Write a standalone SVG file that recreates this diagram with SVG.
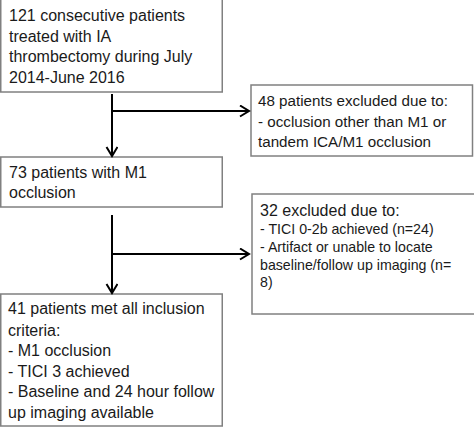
<svg xmlns="http://www.w3.org/2000/svg" width="474" height="429" viewBox="0 0 474 429">
  <defs>
    <style>
      .box { fill: #ffffff; stroke: #808080; stroke-width: 1.5; }
      .t { font-family: "Liberation Sans", Arial, sans-serif; fill: #1a1a1a; font-size: 16px; }
      .s { font-size: 15.2px; }
      .xs { font-size: 14.2px; }
      .conn { stroke: #000000; stroke-width: 2; fill: none; }
    </style>
    <marker id="arr" markerUnits="userSpaceOnUse" markerWidth="12" markerHeight="14" refX="10" refY="6" orient="auto">
      <path d="M1,0.5 L10,6 L1,11.5" fill="none" stroke="#000000" stroke-width="2"/>
    </marker>
  </defs>
  <rect width="474" height="429" fill="#ffffff"/>

  <g id="n1">
    <rect class="box" x="0.75" y="-2" width="221.5" height="94"/>
    <text class="t" x="9" y="21">121 consecutive patients</text>
    <text class="t" x="9" y="41.5">treated with IA</text>
    <text class="t" x="9" y="62">thrombectomy during July</text>
    <text class="t" x="9" y="83">2014-June 2016</text>
  </g>

  <g id="n2">
    <rect class="box" x="251" y="85" width="221.5" height="71"/>
    <text class="t s" x="258" y="106">48 patients excluded due to:</text>
    <text class="t s" x="258" y="126.5">- occlusion other than M1 or</text>
    <text class="t s" x="258" y="146.5">tandem ICA/M1 occlusion</text>
  </g>

  <g id="n3">
    <rect class="box" x="0.75" y="157" width="221.5" height="50"/>
    <text class="t" x="9" y="178">73 patients with M1</text>
    <text class="t" x="9" y="198">occlusion</text>
  </g>

  <g id="n4">
    <rect class="box" x="252" y="194" width="226" height="120"/>
    <text class="t" x="260" y="216">32 excluded due to:</text>
    <text class="t xs" x="260" y="234">- TICI 0-2b achieved (n=24)</text>
    <text class="t xs" x="260" y="252">- Artifact or unable to locate</text>
    <text class="t xs" x="260" y="269.5">baseline/follow up imaging (n=</text>
    <text class="t xs" x="260" y="287">8)</text>
  </g>

  <g id="n5">
    <rect class="box" x="0.75" y="294" width="221.5" height="132"/>
    <text class="t" x="8" y="314">41 patients met all inclusion</text>
    <text class="t" x="8" y="335.5">criteria:</text>
    <text class="t" x="8" y="356">- M1 occlusion</text>
    <text class="t" x="8" y="376.5">- TICI 3 achieved</text>
    <text class="t" x="8" y="397">- Baseline and 24 hour follow</text>
    <text class="t" x="8" y="417.5">up imaging available</text>
  </g>

  <g id="connectors">
    <line class="conn" x1="112" y1="94" x2="112" y2="156" marker-end="url(#arr)"/>
    <line class="conn" x1="111" y1="111" x2="249" y2="111" marker-end="url(#arr)"/>
    <line class="conn" x1="112" y1="215" x2="112" y2="293" marker-end="url(#arr)"/>
    <line class="conn" x1="111" y1="254" x2="249" y2="254" marker-end="url(#arr)"/>
  </g>
</svg>
